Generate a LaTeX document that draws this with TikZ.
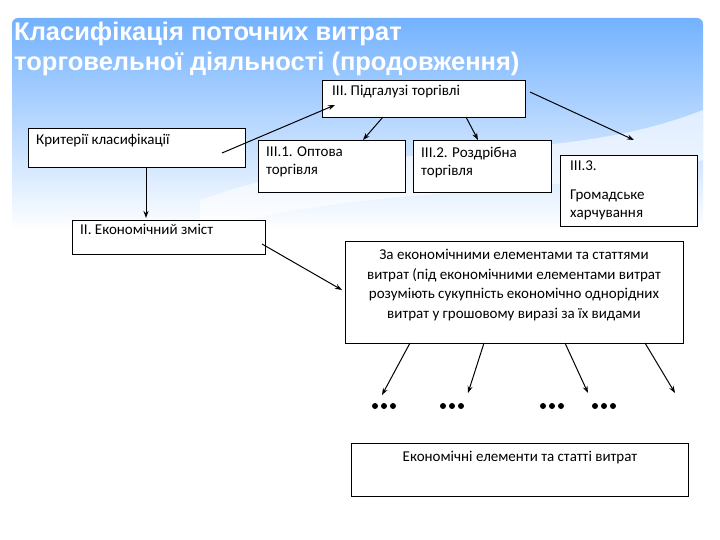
\documentclass[tikz,border=0pt]{standalone}
\usepackage{fontspec}
\setmainfont{Carlito}
\newfontfamily\titlefont{Liberation Sans}
\usetikzlibrary{arrows.meta}
\begin{document}
\begin{tikzpicture}[x=1pt,y=-1pt,
  bx/.style={draw=black,fill=white,line width=0.7pt,anchor=north west,inner sep=0pt},
  txt/.style={font=\fontsize{15}{18}\selectfont,anchor=north west,align=left,inner sep=0pt},
  arr/.style={-{Stealth[length=7pt,width=5pt]},line width=1pt}]
\useasboundingbox (0,0) rectangle (720,540);
\fill[white] (0,0) rectangle (720,540);
\shade[top color=cyan!45!blue!55,bottom color=white,rounded corners=6pt] (12,18) rectangle (703,230);
\fill[white,opacity=0.6] (200,200) .. controls (400,130) and (550,170) .. (703,110) -- (703,160) .. controls (550,200) and (400,180) .. (200,230) -- cycle;
\node[anchor=north west,text=white,font=\titlefont\bfseries\fontsize{25.5}{30}\selectfont,align=left,inner sep=0pt] (title) at (14,22) {Класифікація поточних витрат\\торговельної діяльності (продовження)};
\node[bx,minimum width=203pt,minimum height=37pt] (p) at (322,80) {};
\node[txt] at (332,85) {III. Підгалузі торгівлі};
\node[bx,minimum width=217pt,minimum height=39pt] (k) at (28,128) {};
\node[txt] at (36,134) {Критерії класифікації};
\node[bx,minimum width=147pt,minimum height=52pt] (p1) at (258,140) {};
\node[txt] at (266,147) {III.1. Оптова\\торгівля};
\node[bx,minimum width=138pt,minimum height=52pt] (p2) at (413,140) {};
\node[txt] at (421,147) {III.2. Роздрібна\\торгівля};
\node[bx,minimum width=137pt,minimum height=71pt] (p3) at (560,155) {};
\node[txt] at (570,161) {III.3.};
\node[txt] at (570,190) {Громадське\\харчування};
\node[bx,minimum width=193pt,minimum height=34pt] (e) at (72,220) {};
\node[txt] at (80,224) {II. Економічний зміст};
\node[bx,minimum width=338pt,minimum height=102pt] (b) at (345,241) {};
\node[font=\fontsize{15}{19.5}\selectfont,align=center] (bt) at (514,285) {За економічними елементами та статтями\\витрат (під економічними елементами витрат\\розуміють сукупність економічно однорідних\\витрат у грошовому виразі за їх видами};
\node[bx,minimum width=337pt,minimum height=53pt] (f) at (351,443) {};
\node[font=\fontsize{15}{18}\selectfont] (ft) at (520,458) {Економічні елементи та статті витрат};
\foreach \n/\xx in {d1/384,d2/452,d3/552,d4/604}{
  \node (\n) at (\xx,406) {};
  \foreach \o in {-9,0,9} \fill (\xx+\o,406) circle (3pt);
}
\coordinate (a1) at (382,395);
\coordinate (a2) at (468,393);
\coordinate (a3) at (588,393);
\coordinate (a4) at (675,393);
\draw[arr] (222,153) -- (335,105);
\draw[arr] (146,167) -- (146,218);
\draw[arr] (383,117) -- (363,140);
\draw[arr] (466,117) -- (478,140);
\draw[arr] (530,92) -- (634,140);
\draw[arr] (262,244) -- (342,290);
\draw[arr] (410,343) -- (a1);
\draw[arr] (484,343) -- (a2);
\draw[arr] (565,343) -- (a3);
\draw[arr] (645,343) -- (a4);
\end{tikzpicture}
\end{document}
